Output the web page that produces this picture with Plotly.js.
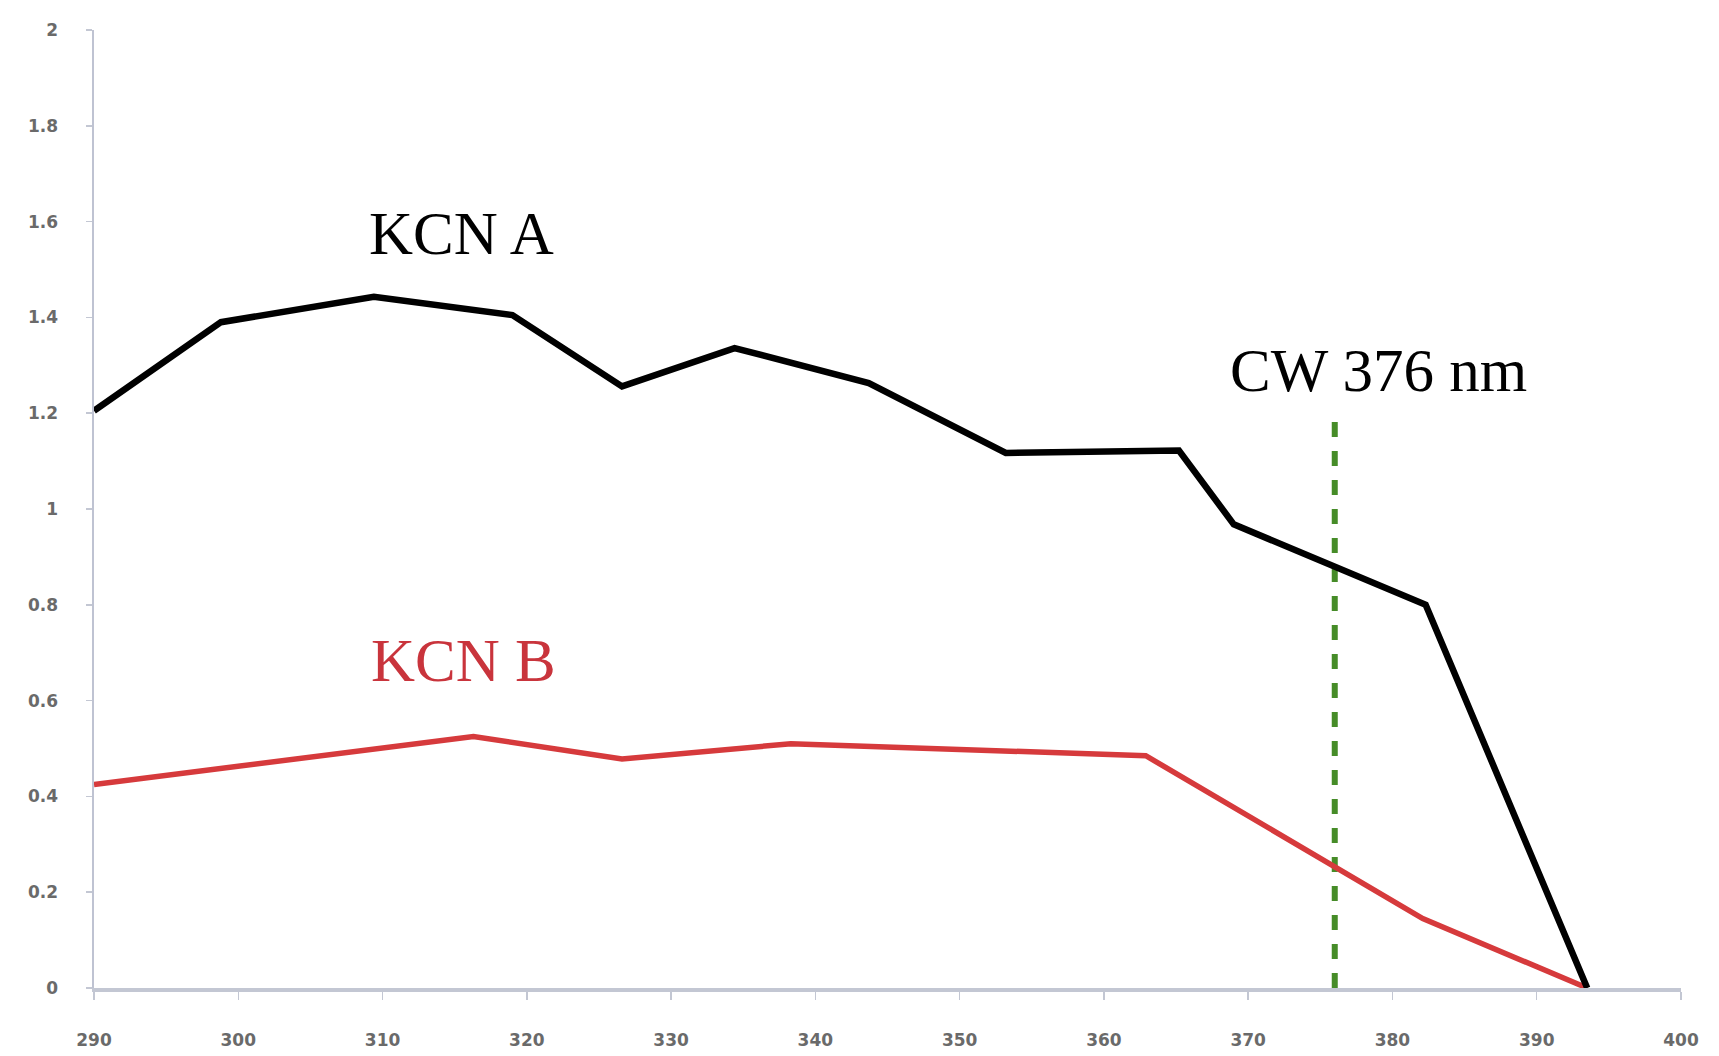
<!DOCTYPE html>
<html>
<head>
<meta charset="utf-8">
<script src="https://cdn.plot.ly/plotly-3.0.1.min.js"></script>
<style>
  html, body { margin: 0; padding: 0; background: #ffffff; }
  #chart { width: 1719px; height: 1056px; }
</style>
</head>
<body>
<div id="chart"></div>
<script>
// Wavelength (nm) and values
const kcnA_x = [290, 298.8, 309.4, 319.0, 326.6, 334.4, 343.7, 353.2, 365.2, 369.0, 382.3, 393.5];
const kcnA_y = [1.205, 1.39, 1.443, 1.405, 1.256, 1.336, 1.263, 1.117, 1.122, 0.968, 0.80, 0];

const kcnB_x = [290, 306.7, 316.3, 326.6, 338.3, 362.9, 382.1, 393.5];
const kcnB_y = [0.425, 0.49, 0.525, 0.478, 0.51, 0.485, 0.145, 0];

const cw_x = [376, 376];
const cw_y = [0, 1.19];

const xTicks = [290, 300, 310, 320, 330, 340, 350, 360, 370, 380, 390, 400];
const yTicks = [0, 0.2, 0.4, 0.6, 0.8, 1, 1.2, 1.4, 1.6, 1.8, 2];

const labels = [
  {text: "KCN A", x: 315.5, y: 1.575, color: "#000000"},
  {text: "CW 376 nm", x: 379.0, y: 1.289, color: "#000000"},
  {text: "KCN B", x: 315.6, y: 0.683, color: "#c9343c"}
];

const traces = [
  {x: cw_x, y: cw_y, mode: "lines", line: {color: "#468c28", width: 6, dash: "15px,14px"}, hoverinfo: "skip"},
  {x: kcnB_x, y: kcnB_y, mode: "lines", line: {color: "#d63a3c", width: 5.5}},
  {x: kcnA_x, y: kcnA_y, mode: "lines", line: {color: "#000000", width: 6.5}}
];

const tickFont = {family: "DejaVu Sans", size: 17, color: "#6a6a6a", weight: "bold"};

const layout = {
  width: 1719, height: 1056,
  margin: {l: 94, r: 38, t: 30, b: 68},
  paper_bgcolor: "#ffffff", plot_bgcolor: "#ffffff",
  showlegend: false,
  xaxis: {
    range: [290, 400], tickvals: xTicks, ticktext: xTicks.map(String),
    showgrid: false, zeroline: false,
    showline: true, linecolor: "#c3c7d3", linewidth: 4,
    ticks: "outside", ticklen: 8, tickcolor: "#c3c7d3", tickwidth: 1.5,
    ticklabelstandoff: 26,
    tickfont: tickFont
  },
  yaxis: {
    range: [0, 2], tickvals: yTicks, ticktext: yTicks.map(String),
    showgrid: false, zeroline: false,
    showline: true, linecolor: "#bfc3d2", linewidth: 2.5,
    ticks: "outside", ticklen: 6, tickcolor: "#c3c7d3", tickwidth: 1.5,
    ticklabelstandoff: 24,
    tickfont: tickFont
  },
  annotations: labels.map(l => ({
    text: l.text, x: l.x, y: l.y, xref: "x", yref: "y",
    showarrow: false, xanchor: "center", yanchor: "middle",
    font: {family: "Liberation Serif", size: 61, color: l.color}
  }))
};

Plotly.newPlot("chart", traces, layout, {displayModeBar: false, staticPlot: true});
</script>
</body>
</html>
